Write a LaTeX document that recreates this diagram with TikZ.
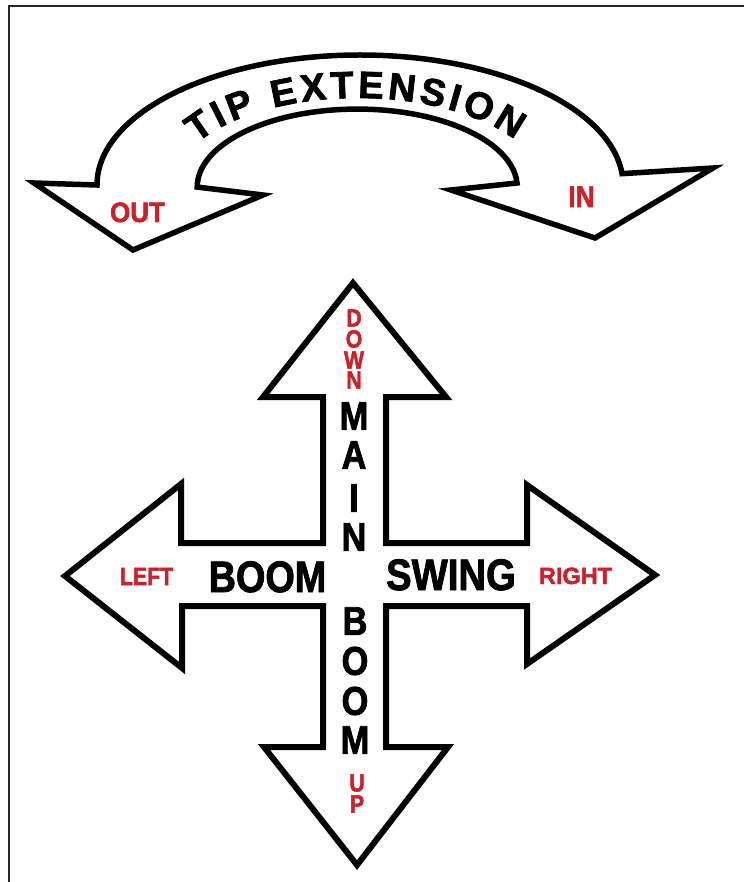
\documentclass[tikz,border=0pt]{standalone}
\usepackage{fontspec}
\usepackage{graphicx}
\setmainfont{Liberation Sans}[BoldFeatures={FakeBold=2}]
\usetikzlibrary{decorations.markings}
\definecolor{myred}{RGB}{204,32,42}
\tikzset{
  outline/.style={draw=black, line width=6, fill=white, line join=miter, miter limit=10},
  bandline/.style={draw=black, line width=5.5, fill=white, line join=miter, miter limit=10},
  frameline/.style={draw=black!85, line width=2.5},
  bigw/.style={inner sep=0, text=black, font=\bfseries\fontsize{44}{44}\selectfont},
  vertw/.style={inner sep=0, text=black, font=\bfseries\fontsize{40}{40}\selectfont},
  redv/.style={inner sep=0, text=myred, font=\bfseries\fontsize{25}{25}\selectfont},
  redh/.style={inner sep=0, text=myred, font=\bfseries\fontsize{25}{25}\selectfont},
  arcw/.style={inner sep=0, text=black, transform shape, anchor=base, font=\bfseries\fontsize{38}{38}\selectfont},
}
\begin{document}
\begin{tikzpicture}[x=1pt,y=-1pt]
\useasboundingbox (0,0) rectangle (744,882);
% frame
\draw[frameline] (9,882) -- (9,6) -- (744,6);

% ---- tip extension curved double arrow ----
\path[bandline] (97,185) arc[start angle=180, end angle=355, x radius=263, y radius=130]
  -- (713,168) -- (595,238) -- (451,190) -- (517,183)
  arc[start angle=357, end angle=180, x radius=160, y radius=78]
  -- (263,195) -- (133,250) -- (34,183) -- cycle;

\path[decorate, decoration={markings,
  mark=at position 63pt with {\node[arcw] (t1) {T};},
  mark=at position 83.7pt with {\node[arcw] (t2) {I};},
  mark=at position 105.5pt with {\node[arcw] (t3) {P};},
  mark=at position 149.1pt with {\node[arcw] (t4) {E};},
  mark=at position 178.3pt with {\node[arcw] (t5) {X};},
  mark=at position 206.4pt with {\node[arcw] (t6) {T};},
  mark=at position 234.5pt with {\node[arcw] (t7) {E};},
  mark=at position 264.8pt with {\node[arcw] (t8) {N};},
  mark=at position 295pt with {\node[arcw] (t9) {S};},
  mark=at position 316.8pt with {\node[arcw] (t10) {I};},
  mark=at position 340.7pt with {\node[arcw] (t11) {O};},
  mark=at position 373.1pt with {\node[arcw] (t12) {N};}
  }] (173,187) arc[start angle=180, end angle=360, x radius=185, y radius=89];

\node[redh, anchor=base, font=\bfseries\fontsize{28}{28}\selectfont] (out) at (137.5,222) {\scalebox{0.93}[1]{OUT}};
\node[redh, anchor=base, font=\bfseries\fontsize{30}{30}\selectfont] (in) at (581.5,207) {\scalebox{0.88}[1]{IN}};

% ---- cross of four arrows ----
\path[outline] (353,283) -- (446,397) -- (386,397) -- (386,543) -- (527,543) -- (527,485)
  -- (655,575) -- (527,664) -- (527,606) -- (386,606) -- (386,747) -- (448,747)
  -- (357,865) -- (264,747) -- (323,747) -- (323,606) -- (182,606) -- (182,668)
  -- (65,576) -- (181,484) -- (181,543) -- (323,543) -- (323,397) -- (263,397) -- cycle;

% horizontal words
\node[redh, anchor=base] (left) at (146.5,585) {\scalebox{0.85}[1]{LEFT}};
\node[bigw, anchor=base] (boomh) at (267.5,592) {\scalebox{0.86}[1]{BOOM}};
\node[bigw, anchor=base] (swing) at (451,590) {\scalebox{0.87}[1]{SWING}};
\node[redh, anchor=base, font=\bfseries\fontsize{23.5}{23.5}\selectfont] (right) at (575.5,584) {RIGHT};

% vertical words
\foreach \l/\y [count=\i] in {D/318,O/339,W/360,N/380}
  \node[redv] (down\i) at (354,\y) {\scalebox{0.85}[1]{\l}};
\foreach \l/\y [count=\i] in {M/416,A/455,I/498,N/537}
  \node[vertw] (main\i) at (354,\y) {\scalebox{0.86}[1]{\l}};
\foreach \l/\y [count=\i] in {B/621,O/661,O/701,M/740}
  \node[vertw] (boomv\i) at (355,\y) {\scalebox{0.86}[1]{\l}};
\foreach \l/\y [count=\i] in {U/783,P/804}
  \node[redv] (up\i) at (357,\y) {\scalebox{0.85}[1]{\l}};
\end{tikzpicture}
\end{document}
